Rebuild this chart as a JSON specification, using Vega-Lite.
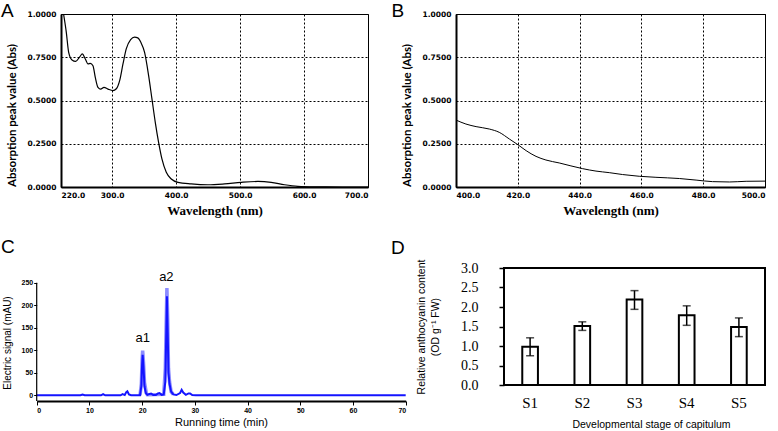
{
  "$schema": "https://vega.github.io/schema/vega-lite/v6.json",
  "background": "white",
  "padding": {"left": 0, "top": 1, "right": 0, "bottom": 0},
  "config": {
    "view": {"stroke": null},
    "axis": {"labelColor": "black", "titleColor": "black", "tickColor": "black", "domainColor": "black"}
  },
  "datasets": {
    "a": [
      {"wl": 224, "abs": 1.0}, {"wl": 228.3, "abs": 0.894}, {"wl": 232, "abs": 0.778}, {"wl": 237.2, "abs": 0.734},
      {"wl": 243, "abs": 0.726}, {"wl": 249.2, "abs": 0.752}, {"wl": 253.3, "abs": 0.769}, {"wl": 258, "abs": 0.74},
      {"wl": 262.2, "abs": 0.711}, {"wl": 265.8, "abs": 0.715}, {"wl": 270, "abs": 0.701}, {"wl": 273.6, "abs": 0.634},
      {"wl": 277.8, "abs": 0.576}, {"wl": 282, "abs": 0.566}, {"wl": 287.2, "abs": 0.576}, {"wl": 293.4, "abs": 0.566},
      {"wl": 301.2, "abs": 0.557}, {"wl": 306.5, "abs": 0.568}, {"wl": 311.7, "abs": 0.615}, {"wl": 316.9, "abs": 0.711},
      {"wl": 322, "abs": 0.798}, {"wl": 328.9, "abs": 0.852}, {"wl": 335, "abs": 0.866}, {"wl": 340, "abs": 0.862},
      {"wl": 345, "abs": 0.835}, {"wl": 350.7, "abs": 0.778}, {"wl": 357, "abs": 0.644}, {"wl": 362.2, "abs": 0.509},
      {"wl": 367.4, "abs": 0.374}, {"wl": 372.6, "abs": 0.258}, {"wl": 377.8, "abs": 0.162}, {"wl": 384.6, "abs": 0.085},
      {"wl": 392.4, "abs": 0.046}, {"wl": 402.8, "abs": 0.027}, {"wl": 423.6, "abs": 0.018}, {"wl": 449.7, "abs": 0.013},
      {"wl": 475.7, "abs": 0.018}, {"wl": 501.8, "abs": 0.027}, {"wl": 527.8, "abs": 0.032}, {"wl": 548.6, "abs": 0.027},
      {"wl": 569.5, "abs": 0.013}, {"wl": 590.3, "abs": 0.004}, {"wl": 616.4, "abs": 0.001}, {"wl": 660, "abs": 0.0},
      {"wl": 700, "abs": 0.0}
    ],
    "a_lab": [{"wl": 126.25, "abs": 0.981, "lab": "A"}],
    "b": [
      {"wl": 400, "abs": 0.387}, {"wl": 403.2, "abs": 0.364}, {"wl": 406.5, "abs": 0.349}, {"wl": 410.8, "abs": 0.335},
      {"wl": 414, "abs": 0.316}, {"wl": 417.3, "abs": 0.277}, {"wl": 420, "abs": 0.245}, {"wl": 422.7, "abs": 0.21},
      {"wl": 425.9, "abs": 0.177}, {"wl": 429.1, "abs": 0.156}, {"wl": 433.4, "abs": 0.139}, {"wl": 437.2, "abs": 0.122},
      {"wl": 441, "abs": 0.106}, {"wl": 445.3, "abs": 0.092}, {"wl": 449.6, "abs": 0.083}, {"wl": 453.9, "abs": 0.072},
      {"wl": 459.3, "abs": 0.062}, {"wl": 464.7, "abs": 0.056}, {"wl": 472.3, "abs": 0.049}, {"wl": 477.7, "abs": 0.04},
      {"wl": 483, "abs": 0.031}, {"wl": 488.5, "abs": 0.029}, {"wl": 493.9, "abs": 0.033}, {"wl": 500, "abs": 0.034}
    ],
    "b_lab": [{"wl": 379.1, "abs": 0.981, "lab": "B"}],
    "c_dark": [
      {"t": 0, "v": 0}, {"t": 8.3, "v": 0}, {"t": 8.7, "v": 1.5}, {"t": 9.1, "v": 0}, {"t": 12.2, "v": 0}, {"t": 12.6, "v": 2.5},
      {"t": 13.0, "v": 0}, {"t": 15.9, "v": 0}, {"t": 16.3, "v": 2.5}, {"t": 16.7, "v": 0.5}, {"t": 17.0, "v": 7},
      {"t": 17.2, "v": 9}, {"t": 17.5, "v": 2}, {"t": 17.9, "v": 0}, {"t": 19.6, "v": 0}, {"t": 19.85, "v": 20},
      {"t": 20.0, "v": 70}, {"t": 20.1, "v": 90}, {"t": 20.25, "v": 65}, {"t": 20.45, "v": 20}, {"t": 20.7, "v": 5},
      {"t": 21.0, "v": 1}, {"t": 21.4, "v": 3}, {"t": 21.7, "v": 4}, {"t": 22.1, "v": 0.5}, {"t": 22.6, "v": 0.5},
      {"t": 23.0, "v": 4}, {"t": 23.3, "v": 5}, {"t": 23.7, "v": 1}, {"t": 24.1, "v": 2}, {"t": 24.4, "v": 30},
      {"t": 24.55, "v": 120}, {"t": 24.7, "v": 220}, {"t": 24.85, "v": 140}, {"t": 25.0, "v": 50}, {"t": 25.2, "v": 25},
      {"t": 25.5, "v": 8}, {"t": 25.9, "v": 2}, {"t": 26.5, "v": 0.5}, {"t": 27.2, "v": 5}, {"t": 27.5, "v": 12},
      {"t": 27.8, "v": 6}, {"t": 28.3, "v": 1}, {"t": 28.8, "v": 4}, {"t": 29.1, "v": 4}, {"t": 29.5, "v": 0.5},
      {"t": 30.2, "v": 0}, {"t": 70, "v": 0}
    ],
    "c_light": [
      {"t": 19.6, "v": 0}, {"t": 19.85, "v": 25}, {"t": 20.0, "v": 80}, {"t": 20.1, "v": 99}, {"t": 20.25, "v": 75},
      {"t": 20.45, "v": 28}, {"t": 20.8, "v": 5}, {"t": 21.0, "v": 1},
      {"t": 24.1, "v": 2}, {"t": 24.4, "v": 60}, {"t": 24.55, "v": 150}, {"t": 24.7, "v": 238}, {"t": 24.85, "v": 170},
      {"t": 25.0, "v": 60}, {"t": 25.2, "v": 30}, {"t": 25.5, "v": 8}, {"t": 25.9, "v": 2}
    ],
    "c_lab": [{"t": 20.1, "v": 118, "lab": "a1"}, {"t": 24.6, "v": 254, "lab": "a2"}],
    "c_letters": [{"t": -6.77, "v": 317, "lab": "C"}, {"t": 67.2, "v": 313, "lab": "D"}],
    "c_axis": [{"t": 0, "v": -12.7, "v2": 250}],
    "d": [
      {"s": "S1", "v": 0.98, "lo": 0.75, "hi": 1.21},
      {"s": "S2", "v": 1.51, "lo": 1.4, "hi": 1.62},
      {"s": "S3", "v": 2.19, "lo": 1.94, "hi": 2.42},
      {"s": "S4", "v": 1.79, "lo": 1.53, "hi": 2.03},
      {"s": "S5", "v": 1.49, "lo": 1.24, "hi": 1.72}
    ]
  },
  "spacing": 19,
  "vconcat": [
    {
      "spacing": 21,
      "hconcat": [
        {
          "width": 307, "height": 173,
          "view": {"stroke": "black", "strokeWidth": 1},
          "encoding": {
            "x": {"field": "wl", "type": "quantitative", "scale": {"domain": [220, 700], "nice": false, "zero": false},
              "axis": {"values": [220, 300, 400, 500, 600, 700], "format": ".1f", "title": "Wavelength (nm)", "grid": true, "gridDash": [2, 2], "gridColor": "black", "gridOpacity": 1, "ticks": false,
                "labelFont": "DejaVu Sans", "labelFontWeight": "bold", "labelFontSize": 7.5, "labelPadding": 4, "domainWidth": 2,
                "titleFont": "Liberation Serif", "titleFontSize": 13, "titleFontWeight": "bold", "titlePadding": 6}},
            "y": {"field": "abs", "type": "quantitative", "scale": {"domain": [0, 1], "nice": false},
              "axis": {"values": [0, 0.25, 0.5, 0.75, 1], "format": ".4f", "title": "Absorption peak value (Abs)", "grid": true, "gridDash": [2, 2], "gridColor": "black", "gridOpacity": 1, "ticks": false,
                "labelFont": "DejaVu Sans", "labelFontWeight": "bold", "labelFontSize": 7.5, "labelPadding": 5, "domainWidth": 2,
                "titleFont": "Lato", "titleFontSize": 11.5, "titleFontWeight": "bold", "titlePadding": 10, "titleY": 101}}
          },
          "layer": [
            {"data": {"name": "a"}, "mark": {"type": "line", "color": "black", "strokeWidth": 1.2, "clip": true, "interpolate": "monotone"}},
            {"data": {"name": "a_lab"}, "mark": {"type": "text", "font": "Liberation Sans", "fontSize": 19, "align": "left", "baseline": "alphabetic", "color": "black"}, "encoding": {"text": {"field": "lab"}}}
          ]
        },
        {
          "width": 309, "height": 173,
          "view": {"stroke": "black", "strokeWidth": 1},
          "encoding": {
            "x": {"field": "wl", "type": "quantitative", "scale": {"domain": [400, 500], "nice": false, "zero": false},
              "axis": {"values": [400, 420, 440, 460, 480, 500], "format": ".1f", "title": "Wavelength (nm)", "grid": true, "gridDash": [2, 2], "gridColor": "black", "gridOpacity": 1, "ticks": false,
                "labelFont": "DejaVu Sans", "labelFontWeight": "bold", "labelFontSize": 7.5, "labelPadding": 4, "domainWidth": 2,
                "titleFont": "Liberation Serif", "titleFontSize": 13, "titleFontWeight": "bold", "titlePadding": 6}},
            "y": {"field": "abs", "type": "quantitative", "scale": {"domain": [0, 1], "nice": false},
              "axis": {"values": [0, 0.25, 0.5, 0.75, 1], "format": ".4f", "title": "Absorption peak value (Abs)", "grid": true, "gridDash": [2, 2], "gridColor": "black", "gridOpacity": 1, "ticks": false,
                "labelFont": "DejaVu Sans", "labelFontWeight": "bold", "labelFontSize": 7.5, "labelPadding": 5, "domainWidth": 2,
                "titleFont": "Lato", "titleFontSize": 11.5, "titleFontWeight": "bold", "titlePadding": 10, "titleY": 101}}
          },
          "layer": [
            {"data": {"name": "b"}, "mark": {"type": "line", "color": "black", "strokeWidth": 1, "clip": true, "interpolate": "monotone"}},
            {"data": {"name": "b_lab"}, "mark": {"type": "text", "font": "Liberation Sans", "fontSize": 19, "align": "left", "baseline": "alphabetic", "color": "black"}, "encoding": {"text": {"field": "lab"}}}
          ]
        }
      ]
    },
    {
      "spacing": -15,
      "hconcat": [
        {
          "width": 344.7, "height": 133,
          "encoding": {
            "x": {"field": "t", "type": "quantitative", "scale": {"domain": [0, 70], "nice": false, "range": [-24.3, 344.7]},
              "axis": {"values": [0, 10, 20, 30, 40, 50, 60, 70], "title": "Running time (min)", "grid": false, "tickSize": 4, "domainWidth": 2,
                "labelFont": "Liberation Sans", "labelFontWeight": "bold", "labelFontSize": 7, "labelPadding": 1,
                "titleFont": "Liberation Sans", "titleFontSize": 11, "titleFontWeight": "normal", "titlePadding": 3, "titleX": 160}},
            "y": {"field": "v", "type": "quantitative", "scale": {"domain": [-12.7, 282.6], "nice": false, "zero": false},
              "axis": {"values": [0, 50, 100, 150, 200, 250], "title": "Electric signal (mAU)", "grid": false, "domain": false, "tickSize": 3, "offset": 24.3,
                "labelFont": "Liberation Sans", "labelFontWeight": "bold", "labelFontSize": 7, "labelPadding": 1,
                "titleFont": "Liberation Sans", "titleFontSize": 10, "titleFontWeight": "normal", "titlePadding": 9, "titleY": 74.5}}
          },
          "layer": [
            {"data": {"name": "c_light"}, "mark": {"type": "line", "color": "#8c8cff", "strokeWidth": 3.5}},
            {"data": {"name": "c_dark"}, "mark": {"type": "line", "color": "#1414ff", "strokeWidth": 2}},
            {"data": {"name": "c_axis"}, "mark": {"type": "rule", "color": "black", "strokeWidth": 1.2}, "encoding": {"y2": {"field": "v2"}}},
            {"data": {"name": "c_lab"}, "mark": {"type": "text", "font": "Liberation Sans", "fontSize": 13, "baseline": "alphabetic", "color": "black"}, "encoding": {"text": {"field": "lab"}}},
            {"data": {"name": "c_letters"}, "mark": {"type": "text", "font": "Liberation Sans", "fontSize": 19, "align": "left", "baseline": "alphabetic", "color": "black"}, "encoding": {"text": {"field": "lab"}}}
          ]
        },
        {
          "width": 261, "height": 117,
          "view": {"stroke": "black", "strokeWidth": 2},
          "data": {"name": "d"},
          "encoding": {
            "x": {"field": "s", "type": "nominal", "scale": {"paddingInner": 0.7, "paddingOuter": 0.35},
              "axis": {"labelAngle": 0, "ticks": false, "domain": false, "labelFont": "Liberation Serif", "labelFontSize": 15, "labelPadding": 10,
                "title": "Developmental stage of capitulum", "titleFont": "Liberation Sans", "titleFontSize": 10.5, "titleFontWeight": "normal", "titlePadding": 9, "titleX": 147}}
          },
          "layer": [
            {"mark": {"type": "bar", "fill": "white", "stroke": "black", "strokeWidth": 2},
              "encoding": {"y": {"field": "v", "type": "quantitative", "scale": {"domain": [0, 3], "nice": false},
                "axis": {"values": [0, 0.5, 1, 1.5, 2, 2.5, 3], "format": ".1f", "grid": false, "domain": false, "ticks": true, "tickSize": 5, "tickWidth": 1.5, "labelPadding": 21, "labelOverlap": false,
                  "labelFont": "Liberation Serif", "labelFontSize": 14,
                  "title": ["Relative anthocyanin content", "(OD g⁻¹ FW)"], "titleFont": "Liberation Sans", "titleFontSize": 10.5, "titleFontWeight": "normal", "titleLineHeight": 14, "titlePadding": 20}}}},
            {"mark": {"type": "rule", "color": "black", "strokeWidth": 1.5},
              "encoding": {"y": {"field": "lo", "type": "quantitative",
                "axis": {"values": [0, 0.5, 1, 1.5, 2, 2.5, 3], "format": ".1f", "grid": false, "domain": false, "ticks": true, "tickSize": 5, "tickWidth": 1.5, "labelPadding": 21, "labelOverlap": false,
                  "labelFont": "Liberation Serif", "labelFontSize": 14,
                  "title": ["Relative anthocyanin content", "(OD g⁻¹ FW)"], "titleFont": "Liberation Sans", "titleFontSize": 10.5, "titleFontWeight": "normal", "titleLineHeight": 14, "titlePadding": 20}},
                "y2": {"field": "hi"}}},
            {"mark": {"type": "tick", "color": "black", "thickness": 1.5, "size": 8},
              "encoding": {"y": {"field": "hi", "type": "quantitative",
                "axis": {"values": [0, 0.5, 1, 1.5, 2, 2.5, 3], "format": ".1f", "grid": false, "domain": false, "ticks": true, "tickSize": 5, "tickWidth": 1.5, "labelPadding": 21, "labelOverlap": false,
                  "labelFont": "Liberation Serif", "labelFontSize": 14,
                  "title": ["Relative anthocyanin content", "(OD g⁻¹ FW)"], "titleFont": "Liberation Sans", "titleFontSize": 10.5, "titleFontWeight": "normal", "titleLineHeight": 14, "titlePadding": 20}}}},
            {"mark": {"type": "tick", "color": "black", "thickness": 1.5, "size": 8},
              "encoding": {"y": {"field": "lo", "type": "quantitative",
                "axis": {"values": [0, 0.5, 1, 1.5, 2, 2.5, 3], "format": ".1f", "grid": false, "domain": false, "ticks": true, "tickSize": 5, "tickWidth": 1.5, "labelPadding": 21, "labelOverlap": false,
                  "labelFont": "Liberation Serif", "labelFontSize": 14,
                  "title": ["Relative anthocyanin content", "(OD g⁻¹ FW)"], "titleFont": "Liberation Sans", "titleFontSize": 10.5, "titleFontWeight": "normal", "titleLineHeight": 14, "titlePadding": 20}}}}
          ]
        }
      ]
    }
  ]
}
